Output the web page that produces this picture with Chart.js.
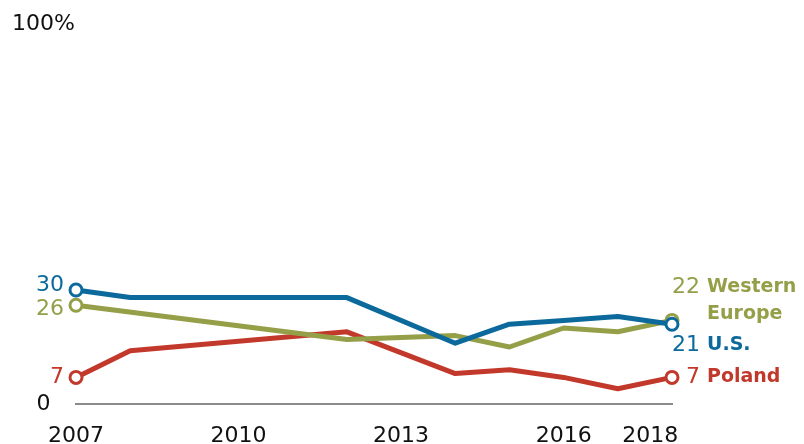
<!DOCTYPE html>
<html>
<head>
<meta charset="utf-8">
<script src="https://cdn.jsdelivr.net/npm/chart.js@4"></script>
<style>
  html, body { margin: 0; padding: 0; background: #fff; }
  #wrap { width: 804px; height: 444px; position: relative; }
</style>
</head>
<body>
<div id="wrap"><canvas id="myChart"></canvas></div>
<script>
var ctx = document.getElementById('myChart').getContext('2d');

// data
var seriesNames = ['U.S.', 'Western Europe', 'Poland'];
var usYears = [2007, 2008, 2012, 2014, 2015, 2016, 2017, 2018];
var usValues = [30, 28, 28, 16, 21, 22, 23, 21];
var weYears = [2007, 2012, 2014, 2015, 2016, 2017, 2018];
var weValues = [26, 17, 18, 15, 20, 19, 22];
var plYears = [2007, 2008, 2012, 2014, 2015, 2016, 2017, 2018];
var plValues = [7, 14, 19, 8, 9, 7, 4, 7];
var xTicks = [2007, 2010, 2013, 2016, 2018];
var yTicks = [0, 100];

var colors = ['#0b6a9b', '#959f48', '#c2392b'];
var fontName = '"DejaVu Sans", sans-serif';

function toPoints(xs, ys) {
  return xs.map(function(x, i) { return { x: x, y: ys[i] }; });
}

// label nudges (px) so the text doesn't sit on top of other labels
var startNudge = [-5, 4, 0];
var endNudge = [21, -33, 0];

function endPoint(c) {
  var n = c.dataset.data.length;
  return c.dataIndex === 0 || c.dataIndex === n - 1;
}

var endLabels = {
  id: 'endLabels',
  afterDatasetsDraw: function(chart) {
    var g = chart.ctx;
    g.save();
    g.textBaseline = 'middle';
    chart.data.datasets.forEach(function(ds, i) {
      var meta = chart.getDatasetMeta(i);
      var first = meta.data[0];
      var last = meta.data[meta.data.length - 1];
      var firstVal = ds.data[0].y;
      var lastVal = ds.data[ds.data.length - 1].y;
      g.fillStyle = colors[i];

      g.font = '22px ' + fontName;
      g.textAlign = 'right';
      g.fillText(firstVal, first.x - 12, first.y + startNudge[i]);
      g.fillText(lastVal, last.x + 28, last.y + endNudge[i]);

      g.font = 'bold 19px ' + fontName;
      g.textAlign = 'left';
      var words = seriesNames[i] === 'Western Europe' ? ['Western', 'Europe'] : [seriesNames[i]];
      words.forEach(function(w, k) {
        g.fillText(w, last.x + 35, last.y + endNudge[i] + k * 27);
      });
    });
    g.restore();
  }
};

new Chart(ctx, {
  type: 'line',
  data: {
    datasets: [
      { label: seriesNames[0], data: toPoints(usYears, usValues), borderColor: colors[0], clip: false },
      { label: seriesNames[1], data: toPoints(weYears, weValues), borderColor: colors[1], clip: false },
      { label: seriesNames[2], data: toPoints(plYears, plValues), borderColor: colors[2], clip: false }
    ]
  },
  options: {
    responsive: true,
    maintainAspectRatio: false,
    animation: false,
    layout: { padding: { top: 24, right: 132, left: 0, bottom: 0 } },
    elements: {
      line: { borderWidth: 5, tension: 0, borderJoinStyle: 'round' },
      point: {
        radius: function(c) { return endPoint(c) ? 6 : 0; },
        borderWidth: 3,
        backgroundColor: '#fff',
        borderColor: function(c) { return colors[c.datasetIndex]; }
      }
    },
    scales: {
      x: {
        type: 'linear',
        min: 2007,
        max: 2018,
        afterFit: function(s) { s.height = 40; },
        afterBuildTicks: function(s) {
          s.ticks = xTicks.map(function(v) { return { value: v === 2018 ? 2017.6 : v }; });
        },
        grid: { display: false, drawTicks: false },
        border: { display: true, color: '#8c8c8c', width: 2 },
        ticks: {
          padding: 19,
          maxRotation: 0,
          color: '#111',
          font: { family: fontName, size: 22 },
          callback: function(v) { return Math.round(v); }
        }
      },
      y: {
        min: 0,
        max: 100,
        afterFit: function(s) { s.width = 76; },
        afterBuildTicks: function(s) {
          s.ticks = yTicks.map(function(v) { return { value: v }; });
        },
        grid: { display: false, drawTicks: false },
        border: { display: false },
        ticks: {
          padding: 1,
          crossAlign: 'center',
          color: '#111',
          font: { family: fontName, size: 22 },
          callback: function(v) { return v === 100 ? '100%' : v; }
        }
      }
    },
    plugins: {
      legend: { display: false },
      tooltip: { enabled: false }
    }
  },
  plugins: [endLabels]
});
</script>
</body>
</html>
